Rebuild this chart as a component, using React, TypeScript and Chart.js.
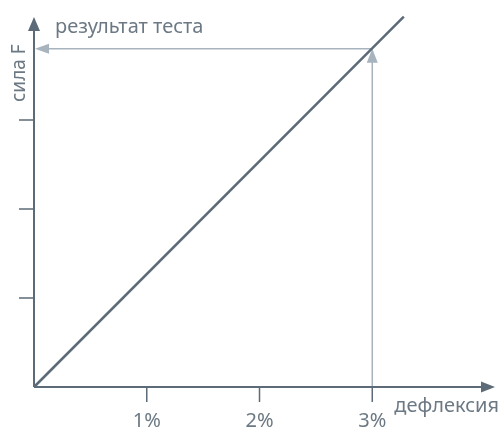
import { useEffect, useRef } from 'react';
import { Chart, registerables } from 'chart.js';

Chart.register(...registerables);

// ---- data ----
const deflection = [0, 3.28];
const force = [0, 4.16];
const xTicks = [1, 2, 3];
const xTickLabels = ['1%', '2%', '3%'];
const yTicks = [1, 2, 3];
const testDeflection = 3;
const testForce = 3.8;
const xAxisTitle = 'дефлексия';
const yAxisTitle = 'сила F';
const resultLabel = 'результат теста';

// ---- style ----
const axisColor = '#5c6b77';
const refColor = '#a7b3bd';
const textColor = '#6c7984';
const fontSpec = '20px "Noto Sans", "DejaVu Sans", sans-serif';

const X_MAX = 4.0885; // (495-34)/113
const Y_MAX = 4.202;
const Y_AXIS_END = 4.157;

const diagramPlugin = {
  id: 'diagram',
  beforeDatasetsDraw(chart: any) {
    const { ctx, scales } = chart;
    const xs = scales.x;
    const ys = scales.y;
    const x0 = xs.getPixelForValue(0);
    const y0 = ys.getPixelForValue(0);
    const px = xs.getPixelForValue(testDeflection);
    const py = ys.getPixelForValue(testForce);
    ctx.save();
    ctx.strokeStyle = refColor;
    ctx.fillStyle = refColor;
    ctx.lineWidth = 1.5;
    // vertical reference arrow (up)
    ctx.beginPath();
    ctx.moveTo(px, y0);
    ctx.lineTo(px, py + 13);
    ctx.stroke();
    ctx.beginPath();
    ctx.moveTo(px, py);
    ctx.lineTo(px - 5.5, py + 14);
    ctx.lineTo(px + 5.5, py + 14);
    ctx.closePath();
    ctx.fill();
    // horizontal reference arrow (left)
    ctx.beginPath();
    ctx.moveTo(px, py);
    ctx.lineTo(x0 + 14, py);
    ctx.stroke();
    ctx.beginPath();
    ctx.moveTo(x0 + 1, py);
    ctx.lineTo(x0 + 15, py - 5);
    ctx.lineTo(x0 + 15, py + 5);
    ctx.closePath();
    ctx.fill();
    ctx.restore();
  },
  afterDatasetsDraw(chart: any) {
    const { ctx, scales } = chart;
    const xs = scales.x;
    const ys = scales.y;
    const x0 = xs.getPixelForValue(0);
    const y0 = ys.getPixelForValue(0);
    const xEnd = xs.getPixelForValue(X_MAX);
    const yEnd = ys.getPixelForValue(Y_AXIS_END);
    ctx.save();
    ctx.strokeStyle = axisColor;
    ctx.fillStyle = axisColor;
    ctx.lineWidth = 2;
    // axes
    ctx.beginPath();
    ctx.moveTo(x0, y0);
    ctx.lineTo(xEnd - 12, y0);
    ctx.moveTo(x0, y0);
    ctx.lineTo(x0, yEnd + 12);
    ctx.stroke();
    // arrowheads
    ctx.beginPath();
    ctx.moveTo(xEnd, y0);
    ctx.lineTo(xEnd - 14, y0 - 5.5);
    ctx.lineTo(xEnd - 14, y0 + 5.5);
    ctx.closePath();
    ctx.fill();
    ctx.beginPath();
    ctx.moveTo(x0, yEnd);
    ctx.lineTo(x0 - 6, yEnd + 14);
    ctx.lineTo(x0 + 6, yEnd + 14);
    ctx.closePath();
    ctx.fill();
    // ticks
    ctx.lineWidth = 1.5;
    ctx.beginPath();
    xTicks.forEach((v) => {
      const p = xs.getPixelForValue(v);
      ctx.moveTo(p, y0);
      ctx.lineTo(p, y0 + 15);
    });
    yTicks.forEach((v) => {
      const p = ys.getPixelForValue(v);
      ctx.moveTo(x0 - 15, p);
      ctx.lineTo(x0, p);
    });
    ctx.stroke();
    // labels
    ctx.fillStyle = textColor;
    ctx.font = fontSpec;
    ctx.textBaseline = 'alphabetic';
    ctx.textAlign = 'center';
    xTicks.forEach((v, i) => {
      ctx.fillText(xTickLabels[i], xs.getPixelForValue(v), y0 + 40);
    });
    ctx.textAlign = 'right';
    ctx.fillText(xAxisTitle, xEnd + 4, y0 + 25);
    ctx.textAlign = 'left';
    ctx.fillText(resultLabel, x0 + 21, 33);
    // rotated y title
    ctx.save();
    ctx.translate(x0 - 9, 102);
    ctx.rotate(-Math.PI / 2);
    ctx.font = '19px "Noto Sans", "DejaVu Sans", sans-serif';
    ctx.fillText(yAxisTitle, 0, 0);
    ctx.restore();
    ctx.restore();
  },
};

export default function App() {
  const ref = useRef<HTMLCanvasElement | null>(null);
  useEffect(() => {
    document.body.style.margin = '0';
    if (!ref.current) return;
    const chart = new Chart(ref.current, {
      type: 'line',
      data: {
        datasets: [
          {
            data: deflection.map((d, i) => ({ x: d, y: force[i] })),
            borderColor: axisColor,
            borderWidth: 2.5,
            pointRadius: 0,
            fill: false,
            clip: false as any,
          },
        ],
      },
      options: {
        animation: false,
        responsive: true,
        maintainAspectRatio: false,
        layout: { padding: { left: 34, right: 7, top: 13, bottom: 42 } },
        plugins: { legend: { display: false }, tooltip: { enabled: false } },
        scales: {
          x: { type: 'linear', min: 0, max: X_MAX, display: false },
          y: { type: 'linear', min: 0, max: Y_MAX, display: false },
        },
      },
      plugins: [diagramPlugin],
    });
    return () => chart.destroy();
  }, []);
  return (
    <div style={{ position: 'absolute', left: 0, top: 0, width: 502, height: 429 }}>
      <canvas ref={ref} />
    </div>
  );
}
